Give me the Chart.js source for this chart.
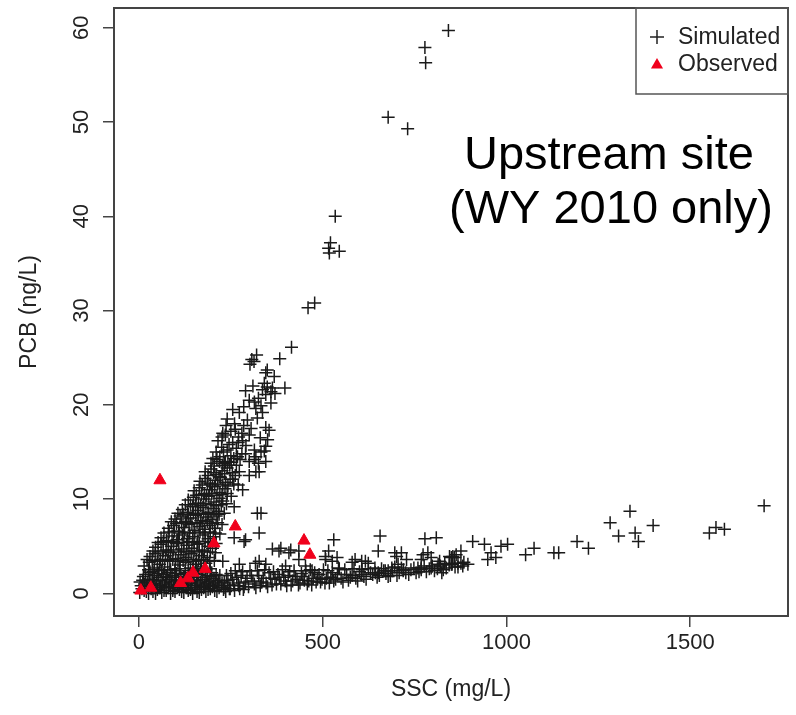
<!DOCTYPE html>
<html>
<head>
<meta charset="utf-8">
<script src="https://cdn.jsdelivr.net/npm/chart.js@4.4.1/dist/chart.umd.min.js"></script>
<style>
  body { margin: 0; background: #fff; }
  #wrap { width: 796px; height: 715px; }
</style>
</head>
<body>
<div id="wrap"><canvas id="pcb-chart" width="796" height="715"></canvas></div>
<script>
// PCB against suspended sediment, upstream site, water year 2010
const xTicks = [0, 500, 1000, 1500];
const yTicks = [0, 10, 20, 30, 40, 50, 60];

// simulated values as [SSC mg/L, PCB ng/L]
// dense cloud at low SSC
const simBase = [
  [2,0.1],[14,0.3],[26,0.0],[38,0.2],[50,0.4],[62,0.1],[74,0.3],[86,0.0],[98,0.2],[110,0.4],
  [122,0.1],[134,0.3],[146,0.0],[158,0.2],[170,0.4],[182,0.2],[194,0.5],[206,0.3],[218,0.6],[230,0.4],
  [8,0.5],[20,0.2],[33,0.5],[45,0.0],[56,0.6],[68,0.3],[80,0.6],[92,0.3],[104,0.6],[116,0.2],
  [128,0.6],[140,0.4],[152,0.6],[164,0.1],[176,0.6],[188,0.4],[200,0.7],[212,0.2],[224,0.8],[236,0.2],
  [248,0.5],[260,0.3],[272,0.8],[284,0.4],
  [6,0.8],[20,0.7],[32,0.9],[44,0.6],[58,0.8],[70,0.7],[82,0.9],[94,0.6],[106,0.8],[118,0.7],
  [130,0.9],[142,0.6],[154,0.8],[166,0.7],[178,0.9],[190,0.8],[202,1.0],[214,0.9],[226,1.1],[240,0.8],
  [3,1.2],[15,1.0],[28,1.1],[40,1.0],[52,1.7],[64,1.0],[76,1.7],[88,1.1],[100,1.7],[112,1.0],
  [124,1.7],[136,1.1],[148,1.7],[160,1.0],[172,1.7],[184,1.1],[196,1.8],[208,1.2],[220,1.9],[232,1.2],
  [10,1.4],[24,1.2],[36,1.5],[48,1.3],[60,1.4],[72,1.2],[84,1.5],[96,1.3],[108,1.4],[120,1.2],
  [132,1.5],[144,1.3],[156,1.4],[168,1.2],[180,1.5],[192,1.3],[204,1.6],[216,1.4],
  [18,2.0],[30,2.2],[42,1.9],[54,2.1],[66,2.0],[78,2.2],[90,1.9],[102,2.1],[114,2.0],[126,2.2],
  [138,1.9],[150,2.1],[162,2.0],[174,2.3],[186,1.9],[198,2.2],
  [12,1.8],[26,2.5],[38,2.3],[50,2.5],[62,2.4],[74,1.8],[86,2.5],[98,2.4],[110,2.6],[122,1.8],
  [134,2.4],[146,2.6],[158,2.4],[170,2.6],[182,2.5],[194,2.6],[210,2.0]
];

// steep branch, PCB rising fast with SSC
const simSteep = [
  [842,59.7],[778,57.9],[780,56.3],[678,50.5],[731,49.3],
  [534,40.0],[521,37.2],[516,36.6],[545,36.3],[518,36.1],
  [478,30.8],[460,30.3],
  [415,26.1],[383,24.9],[320,25.3],[307,24.8],[302,24.3],[313,24.6],
  [349,23.7],[368,23.0],[345,23.4],
  [341,22.3],[349,21.9],[336,21.6],[397,21.8],[363,21.8],[359,21.4],[370,21.2],[345,21.1],
  [325,20.7],[314,20.3],[359,20.2],[332,19.9],[318,19.6],[336,19.2],[273,19.2],
  [295,18.4],[322,18.6],[237,17.8],[345,17.6],[354,17.3],[228,17.0],[226,16.6],[271,16.6],
  [282,16.2],[300,16.8],[291,15.7],[350,16.3],[345,15.6],
  [314,15.2],[341,15.1],[332,15.0],[318,14.5],[268,14.5],[314,14.2],[345,14.0],
  [201,14.3],[219,14.0],[232,13.8],[251,13.9],
  [318,12.9],[327,12.9],[273,12.9],[282,11.0],[255,12.1],[251,10.3],[259,9.2],
  [322,8.5],[332,8.5],[327,6.4],[259,5.9],[286,5.5],[290,5.7],[317,3.2],[228,3.4],[273,3.1],
  [210,15.0],[225,15.5],[240,15.2],[255,16.0],[265,15.4],[280,17.0],[250,17.2],[305,17.5],
  [330,16.5],[260,18.0],[245,15.8],[290,14.8],[275,14.2],
  [215,16.2],[235,16.8],[262,17.4],[240,18.5],[255,19.5],[285,19.8],[300,20.5],[290,21.5],
  [310,22.0],[285,17.8],[270,16.0],[230,15.0],[300,14.0],[325,13.8],[300,12.5],[270,11.5],
  [196,13.8],[212,14.2],[228,13.6],[242,14.0],[258,14.3],
  [205,13.5],[220,14.5],[235,13.9],[250,14.6],[265,13.6],[280,14.8],
  [180,12.9],[196,13.2],[210,12.6],[226,13.0],[240,13.3],[254,12.8],
  [188,12.5],[203,12.8],[218,12.4],[233,12.7],[247,13.6],[262,12.5],
  [166,11.9],[180,12.2],[194,11.6],[208,12.0],[222,12.3],[236,11.8],[248,12.1],
  [172,11.5],[186,11.7],[200,11.4],[214,11.6],[228,11.5],[242,11.4],[258,11.6],
  [150,10.9],[164,11.2],[178,10.6],[192,11.0],[206,11.3],[220,10.7],[234,11.1],
  [156,10.4],[170,10.5],[184,10.4],[198,10.6],[212,10.4],[226,10.5],[240,10.6],
  [134,9.9],[148,10.2],[162,9.6],[176,10.0],[190,10.3],[204,9.7],[218,10.1],[228,9.8],
  [126,9.4],[140,9.4],[154,9.5],[168,9.3],[182,9.5],[196,9.4],[210,9.3],[224,9.4],[238,9.5],
  [118,8.9],[132,8.6],[146,9.2],[160,8.8],[174,9.1],[188,8.6],[202,9.0],[216,8.7],
  [106,8.5],[120,8.4],[134,8.4],[148,8.5],[162,8.4],[176,8.5],[190,8.4],[204,8.5],[218,8.4],[232,8.5],
  [98,7.9],[112,8.2],[126,7.6],[140,8.0],[154,8.3],[168,7.7],[182,8.1],[196,7.8],[210,8.2],
  [88,7.6],[102,7.4],[116,7.5],[130,7.6],[144,7.4],[158,7.5],[172,7.4],[186,7.6],[200,7.4],[214,7.5],[226,7.3],
  [80,6.9],[94,7.2],[108,6.6],[122,7.0],[136,7.3],[150,6.7],[164,7.1],[178,6.8],[192,7.2],[206,6.9],
  [68,6.4],[82,6.5],[96,6.6],[110,6.4],[124,6.5],[138,6.4],[152,6.4],[166,6.5],[180,6.4],[194,6.5],[208,6.4],[220,6.3],
  [60,5.9],[75,5.6],[90,6.1],[104,5.7],[118,6.2],[132,5.8],[146,6.0],[160,5.5],[174,6.2],[188,5.8],[202,6.0],
  [52,5.4],[66,5.5],[80,5.4],[94,5.5],[108,5.4],[122,5.4],[136,5.5],[150,5.4],[164,5.3],[180,5.5],[194,5.4],[210,5.3],
  [45,4.9],[60,5.2],[74,4.6],[88,5.0],[102,5.3],[116,4.7],[130,5.1],[144,4.8],[158,5.2],[172,4.6],[188,5.0],[200,4.8],
  [38,4.5],[52,4.4],[66,4.5],[80,4.4],[94,4.6],[108,4.4],[122,4.5],[136,4.4],[150,4.5],[164,4.4],[178,4.5],[194,4.4],[208,4.3],
  [30,3.9],[44,4.2],[58,3.6],[72,4.0],[86,4.3],[100,3.7],[114,4.1],[128,3.8],[142,4.2],[156,3.6],[170,4.0],[186,3.8],
  [22,3.6],[36,3.5],[50,3.4],[64,3.6],[78,3.5],[92,3.6],[106,3.4],[120,3.5],[134,3.6],[148,3.4],[162,3.5],[176,3.6],[192,3.4],[205,3.5],
  [14,2.9],[28,3.3],[42,2.7],[56,3.1],[70,2.8],[84,3.4],[98,2.6],[112,3.0],[126,3.3],[140,2.7],[154,3.1],[168,2.8],[182,3.2]
];

// shallow branch, PCB rising slowly with SSC
const simFlat = [
  [234,0.6],[242,1.4],[250,2.1],[258,0.9],[266,1.7],[274,0.5],[282,2.3],[290,1.2],[298,0.7],[306,1.9],
  [314,1.0],[322,2.4],[330,0.8],[338,1.6],[346,1.1],[354,2.2],[362,0.9],[370,1.5],[378,2.0],[386,1.0],
  [394,1.7],[402,0.8],[410,2.3],[418,1.3],[426,1.8],[434,0.9],[442,2.1],[450,1.4],[458,1.0],[466,2.5],
  [474,1.6],[482,1.2],[490,2.0],[498,1.5],[506,1.1],[514,2.4],[522,1.7],[530,1.3],[540,2.0],[550,1.6],
  [560,2.5],[570,1.4],[580,1.9],[590,1.6],[600,2.3],[612,1.8],[624,2.6],[636,2.0],[648,1.7],[660,2.6],
  [672,2.1],[684,1.9],[696,2.8],[708,2.2],[720,2.5],[734,2.0],[748,2.7],[762,2.3],[776,2.9],[790,2.6],
  [804,2.4],[820,2.9],[836,2.7],[852,3.1],[868,2.8],[884,3.3],
  [238,1.9],[246,0.5],[254,1.5],[262,2.4],[270,1.1],[278,1.9],[286,0.7],[294,1.6],[302,2.4],[310,1.3],
  [318,0.6],[326,1.9],[334,1.2],[342,2.5],[350,0.7],[358,1.6],[366,2.3],[374,1.0],[382,1.7],[390,2.5],
  [398,1.3],[406,1.9],[414,0.9],[422,2.4],[430,1.5],[438,1.1],[446,1.8],[454,2.4],[462,1.3],[470,0.9],
  [478,2.2],[486,1.6],[494,1.2],[502,2.5],[510,1.6],[518,1.1],[526,2.2],[535,1.5],[545,2.6],[555,1.2],
  [565,2.0],[575,1.7],[585,2.6],[595,1.3],[605,2.0],[618,1.5],[630,2.2],[642,2.7],[654,1.9],[666,2.4],
  [678,1.8],[690,2.4],[702,1.9],[714,2.7],[726,2.2],[740,2.5],[754,2.2],[768,2.7],[782,2.3],[798,2.9],
  [812,2.6],[828,2.5],[844,3.0],[860,2.8],[876,3.2],
  [363,4.7],[381,4.5],[408,4.3],[435,4.5],[386,4.8],[413,4.6],[435,3.6],[530,5.7],[516,4.5],[507,3.9],
  [539,3.8],[656,6.1],[651,4.5],[696,4.3],[714,4.3],[701,3.9],[728,3.6],[778,5.8],[809,5.9],[773,4.1],
  [768,3.6],[795,3.8],[818,3.4],[850,3.8],[863,4.1],[588,3.6],[606,3.4],[624,3.2],[327,3.4],[345,3.1],
  [399,2.9],[453,2.9],[471,2.4],[508,3.6],[526,3.4],[543,2.7],[580,3.3],[607,2.5],[616,3.4],[643,2.2],
  [670,2.4],[688,2.7],[705,3.1],[786,4.3],[845,3.9],[858,3.8],[651,2.2],[678,2.4],[719,2.4],[768,2.5],
  [795,2.7],[814,3.1],[850,3.1],[759,2.7],[824,2.2],
  [832,3.2],[854,3.9],[876,4.5],[868,3.2],[881,2.9],[895,3.1],[908,5.5],[940,5.2],[958,4.3],[949,3.6],
  [971,3.8],[985,5.0],[1003,5.2],[1052,4.1],[1075,4.8],[1129,4.3],[1142,4.3],[1192,5.5],[1223,4.8],
  [1282,7.5],[1305,6.1],[1336,8.7],[1350,6.4],[1359,5.5],[1399,7.2],[1552,6.4],[1570,7.0],[1593,6.8],
  [1701,9.3]
];

// observed samples
const obsSSC = [5, 32, 57, 113, 133, 147, 180, 204, 262, 449, 465];
const obsPCB = [0.3, 0.6, 12.0, 1.1, 1.6, 2.2, 2.6, 5.3, 7.1, 5.6, 4.1];

const FONT = '"Liberation Sans", Arial, Helvetica, sans-serif';
const INK = '#222';
const RED = '#f0001c';

const simulated = simBase.concat(simSteep, simFlat).map(p => ({ x: p[0], y: p[1] }));
const observed = obsSSC.map((x, i) => ({ x: x, y: obsPCB[i] }));

function drawCross(ctx, x, y, r) {
    ctx.beginPath();
    ctx.moveTo(x - r, y); ctx.lineTo(x + r, y);
    ctx.moveTo(x, y - r); ctx.lineTo(x, y + r);
    ctx.stroke();
}

function drawTriangle(ctx, x, y, r) {
    ctx.beginPath();
    ctx.moveTo(x, y - r);
    ctx.lineTo(x + r * 0.866, y + r * 0.5);
    ctx.lineTo(x - r * 0.866, y + r * 0.5);
    ctx.closePath();
    ctx.fill();
}

// box, rotated y labels, axis titles, legend and site note
const decorations = {
    id: 'decorations',
    afterDraw(chart) {
        const { ctx, chartArea: a, scales } = chart;
        ctx.save();

        ctx.strokeStyle = '#444';
        ctx.lineWidth = 2;
        ctx.strokeRect(a.left, a.top, a.right - a.left, a.bottom - a.top);

        ctx.fillStyle = INK;
        ctx.font = '22px ' + FONT;
        ctx.textAlign = 'center';
        ctx.textBaseline = 'middle';
        yTicks.forEach(v => {
            ctx.save();
            ctx.translate(82, scales.y.getPixelForValue(v));
            ctx.rotate(-Math.PI / 2);
            ctx.fillText(String(v), 0, 0);
            ctx.restore();
        });

        ctx.font = '23px ' + FONT;
        ctx.fillText('SSC (mg/L)', (a.left + a.right) / 2, 690);
        ctx.save();
        ctx.translate(30, (a.top + a.bottom) / 2);
        ctx.rotate(-Math.PI / 2);
        ctx.fillText('PCB (ng/L)', 0, 0);
        ctx.restore();

        // legend
        const lx = 636, ly = a.top;
        ctx.strokeStyle = '#555';
        ctx.lineWidth = 1.5;
        ctx.strokeRect(lx, ly, a.right - lx, 86);
        ctx.strokeStyle = INK;
        ctx.lineWidth = 1.5;
        drawCross(ctx, 657, 37, 7);
        ctx.fillStyle = RED;
        drawTriangle(ctx, 657, 65, 7);
        ctx.fillStyle = INK;
        ctx.textAlign = 'left';
        ctx.font = '23px ' + FONT;
        ctx.fillText('Simulated', 678, 38);
        ctx.fillText('Observed', 678, 65);

        ctx.fillStyle = '#000';
        ctx.textAlign = 'center';
        ctx.textBaseline = 'alphabetic';
        ctx.font = '47px ' + FONT;
        ctx.fillText('Upstream site', 609, 169);
        ctx.fillText('(WY 2010 only)', 611, 223);

        ctx.restore();
    }
};

const tickGrid = {
    drawOnChartArea: false,
    drawTicks: true,
    tickLength: 11,
    color: '#444',
    lineWidth: 1.5
};

new Chart(document.getElementById('pcb-chart'), {
    type: 'scatter',
    data: {
        datasets: [
            {
                label: 'Observed',
                data: observed,
                pointStyle: 'triangle',
                pointRadius: 7,
                backgroundColor: RED,
                borderColor: RED,
                borderWidth: 1,
                order: 1
            },
            {
                label: 'Simulated',
                data: simulated,
                pointStyle: 'cross',
                pointRadius: 6.5,
                borderColor: '#1a1a1a',
                borderWidth: 1.5,
                order: 2
            }
        ]
    },
    options: {
        responsive: false,
        animation: false,
        events: [],
        layout: { padding: { top: 7, right: 4, left: 0, bottom: 0 } },
        plugins: {
            legend: { display: false },
            tooltip: { enabled: false }
        },
        scales: {
            x: {
                type: 'linear',
                min: -68,
                max: 1766,
                afterBuildTicks: s => { s.ticks = xTicks.map(v => ({ value: v })); },
                afterFit: s => { s.height = 99; },
                ticks: {
                    callback: v => String(v),
                    font: { family: FONT, size: 22 },
                    color: INK,
                    padding: 3,
                    maxRotation: 0
                },
                grid: tickGrid,
                border: { display: false }
            },
            y: {
                type: 'linear',
                min: -2.4,
                max: 62.1,
                afterBuildTicks: s => { s.ticks = yTicks.map(v => ({ value: v })); },
                afterFit: s => { s.width = 114; },
                ticks: { display: false },
                grid: tickGrid,
                border: { display: false }
            }
        }
    },
    plugins: [decorations]
});
</script>
</body>
</html>
